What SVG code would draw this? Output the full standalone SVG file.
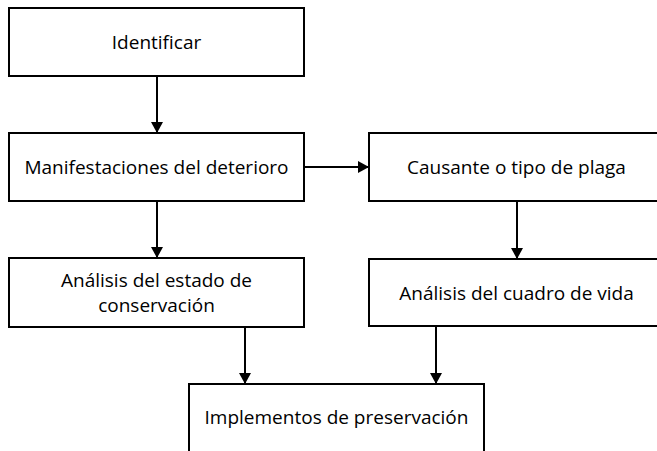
<svg xmlns="http://www.w3.org/2000/svg" width="657" height="451" viewBox="0 0 657 451">
<style>
.box{fill:#fff;stroke:#000;stroke-width:2}
.t{font-family:"Open Sans","DejaVu Sans",sans-serif;font-size:19px;fill:#000;text-anchor:middle}
.c{stroke:#000;stroke-width:2;fill:none;marker-end:url(#ah)}
</style>
<defs>
<marker id="ah" markerWidth="11" markerHeight="12" refX="11" refY="6" orient="auto" markerUnits="userSpaceOnUse">
<path d="M0,0 L11,6 L0,12 Z" fill="#000"/>
</marker>
</defs>
<rect width="657" height="451" fill="#fff"/>
<g id="n1"><rect class="box" x="9" y="8" width="295" height="68"/><text class="t" x="156.5" y="49">Identificar</text></g>
<g id="n2"><rect class="box" x="9" y="133" width="295" height="68"/><text class="t" x="156.5" y="174">Manifestaciones del deterioro</text></g>
<g id="n3"><rect class="box" x="369" y="133" width="295" height="68"/><text class="t" x="516.5" y="174">Causante o tipo de plaga</text></g>
<g id="n4"><rect class="box" x="9" y="258" width="295" height="69"/><text class="t" x="156.5" y="287">Análisis del estado de</text><text class="t" x="156.5" y="312">conservación</text></g>
<g id="n5"><rect class="box" x="369" y="259" width="295" height="67"/><text class="t" x="516.5" y="300">Análisis del cuadro de vida</text></g>
<g id="n6"><rect class="box" x="189" y="384" width="295" height="80"/><text class="t" x="336.5" y="424">Implementos de preservación</text></g>
<g id="connectors">
<line class="c" x1="157" y1="76" x2="157" y2="133"/>
<line class="c" x1="304" y1="167" x2="369" y2="167"/>
<line class="c" x1="157" y1="201" x2="157" y2="258"/>
<line class="c" x1="517" y1="201" x2="517" y2="259"/>
<line class="c" x1="245" y1="327" x2="245" y2="384"/>
<line class="c" x1="436" y1="326" x2="436" y2="384"/>
</g>
</svg>
